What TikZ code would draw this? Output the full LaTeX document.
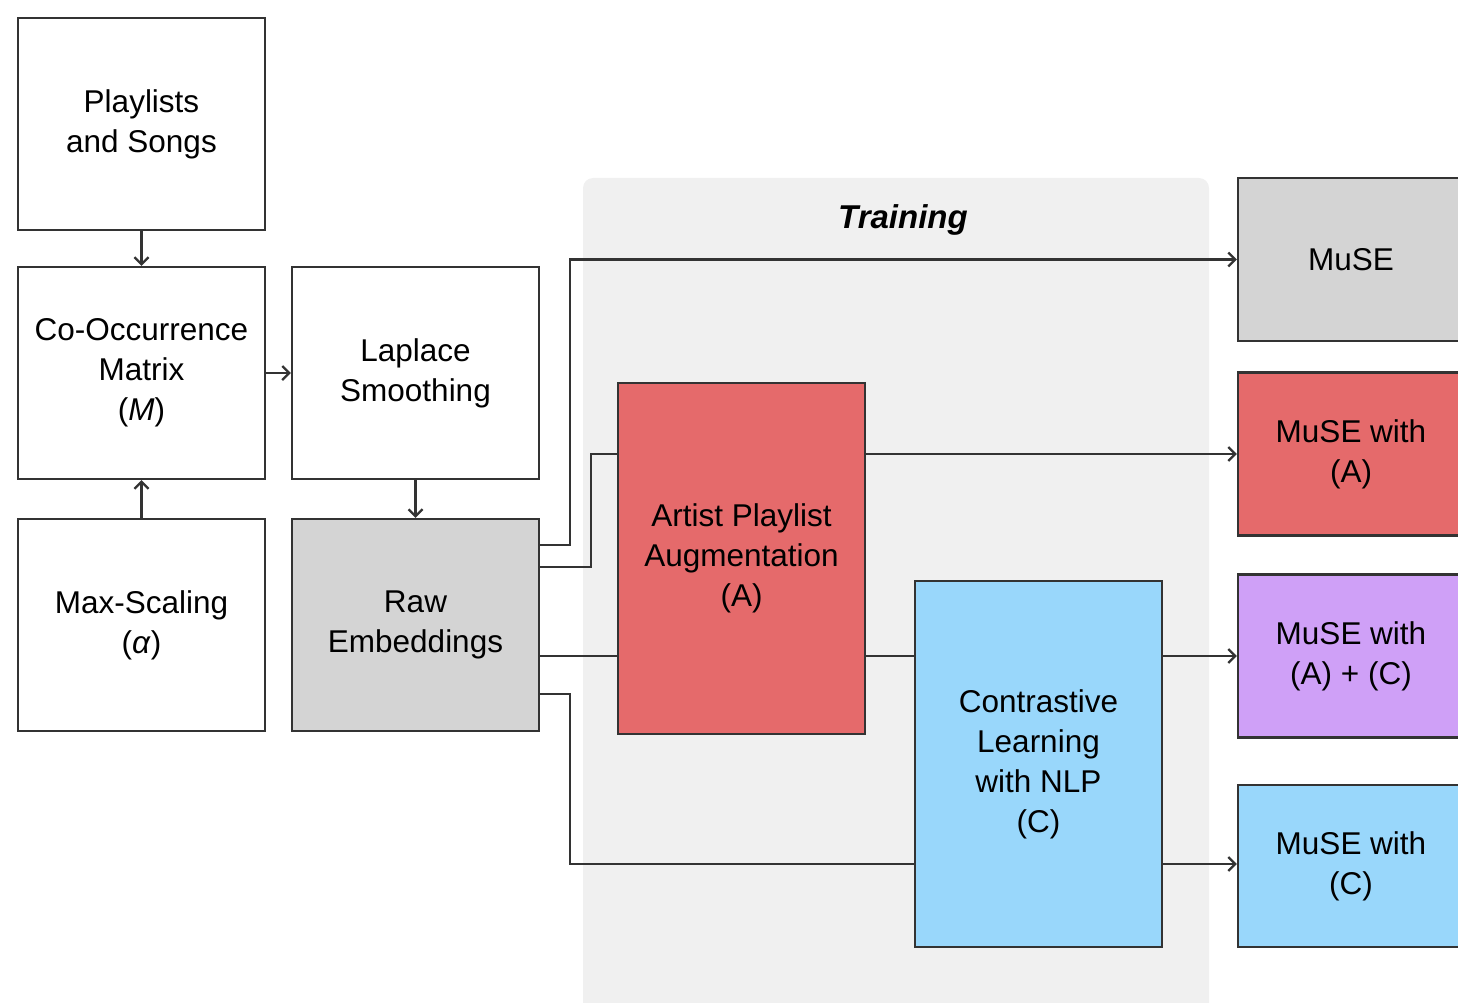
\documentclass[tikz,border=0pt]{standalone}
\usepackage{fontspec}
\setmainfont{Liberation Sans}
\usetikzlibrary{arrows.meta}
\usetikzlibrary{calc}
\definecolor{boxgray}{HTML}{D4D4D4}
\definecolor{boxred}{HTML}{E56A6B}
\definecolor{boxblue}{HTML}{99D7FB}
\definecolor{boxpurple}{HTML}{CFA0F7}
\definecolor{trainbg}{HTML}{F0F0F0}
\definecolor{edgegray}{HTML}{333333}
\tikzset{>={Straight Barb[length=7pt,width=14pt]}}
\tikzset{
  block/.style={draw=edgegray,line width=2.4pt,fill=white,inner sep=0pt,align=center,
    minimum width=247pt,minimum height=212pt,font=\fontsize{31.5}{40}\selectfont},
  result/.style={block,minimum width=226pt,minimum height=163pt},
  link/.style={draw=edgegray,line width=2.2pt}
}

\begin{document}
\begin{tikzpicture}[x=1pt,y=-1pt]
    \useasboundingbox (0,0) rectangle (1458,1003);
    \clip (0,0) rectangle (1458,1003);
    \fill[trainbg,rounded corners=10pt] (583,178) rectangle (1209,1020);
    \node[font=\fontsize{33}{40}\selectfont\bfseries\itshape] (train) at (903,220) {Training};
    % input side
    \node[block] (songs) at (141.5,124) {Playlists\\and Songs};
    \node[block] (cooc) at (141.5,373) {Co-Occurrence\\Matrix\\(\textit{M})};
    \node[block] (maxsc) at (141.5,625) {Max-Scaling\\(\textit{α})};
    \node[block] (laplace) at (415.5,373) {Laplace\\Smoothing};
    \node[block,fill=boxgray] (raw) at (415.5,625) {Raw\\Embeddings};
    % training
    \node[block,fill=boxred,minimum height=351pt] (artist) at (741.5,558.5) {Artist Playlist\\Augmentation\\(A)};
    \node[block,fill=boxblue,minimum height=366pt] (contr) at (1038.5,764) {Contrastive\\Learning\\with NLP\\(C)};
    % results
    \node[result,fill=boxgray] (muse) at (1351,259.5) {MuSE};
    \node[result,fill=boxred] (museA) at (1351,454) {MuSE with\\(A)};
    \node[result,fill=boxpurple] (museAC) at (1351,656) {MuSE with\\(A) + (C)};
    \node[result,fill=boxblue,minimum height=162pt] (museC) at (1351,866) {MuSE with\\(C)};
    % connectors
    \draw[link,->] (songs) -- (cooc);
    \draw[link,->] (maxsc) -- (cooc);
    \draw[link,->] (cooc) -- (laplace);
    \draw[link,->] (laplace) -- (raw);
    \draw[link,->] ([yshift=80pt]raw.east) -- ++(30,0) |- (muse.west);
    \coordinate (a1) at ([yshift=104.5pt]artist.west);
    \draw[link] ([yshift=58pt]raw.east) -- ++(51,0) |- (a1);
    \draw[link,->] (a1 -| artist.east) -- (a1 -| museA.west);
    \coordinate (c1) at ([yshift=-31pt]raw.east);
    \draw[link] (c1) -- (c1 -| artist.west);
    \draw[link] (c1 -| artist.east) -- (c1 -| contr.west);
    \draw[link,->] (c1 -| contr.east) -- (c1 -| museAC.west);
    \coordinate (c2) at ([yshift=-100pt]contr.west);
    \draw[link] ([yshift=-69pt]raw.east) -- ++(30,0) |- (c2);
    \draw[link,->] (c2 -| contr.east) -- (c2 -| museC.west);
\end{tikzpicture}
\end{document}
